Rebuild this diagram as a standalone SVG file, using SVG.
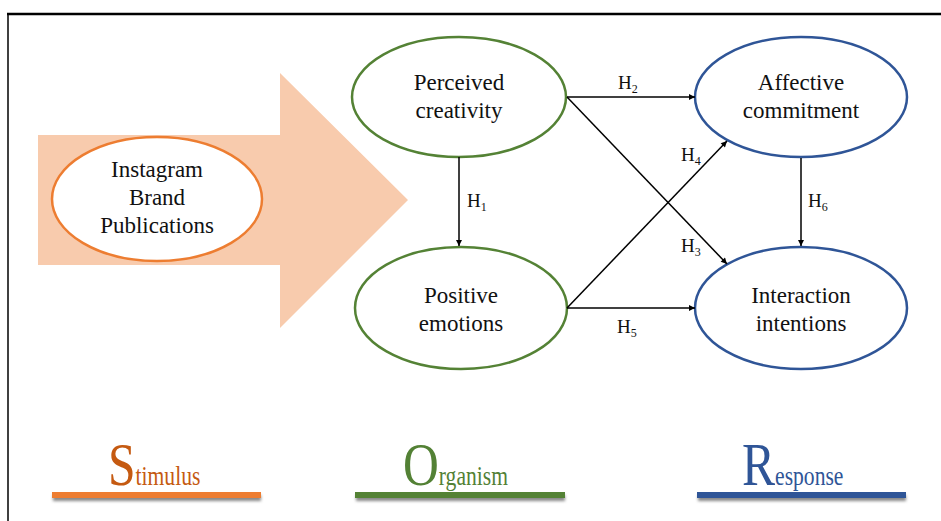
<svg xmlns="http://www.w3.org/2000/svg" width="941" height="521" viewBox="0 0 941 521" font-family="'Liberation Serif', 'Times New Roman', serif">
<style>
text{font-family:'Liberation Serif','Times New Roman',serif}
.lbl{font-size:23px;fill:#111;text-anchor:middle}
.h{font-size:19px;fill:#111}
.sub{font-size:12px}
.conn{stroke:#000;stroke-width:1.5;fill:none;marker-end:url(#ah)}
.green{fill:#fff;stroke:#548235;stroke-width:2.5}
.blue{fill:#fff;stroke:#2F5597;stroke-width:2.5}
.orange{fill:#fff;stroke:#ED7D31;stroke-width:2.5}
.big{font-size:62px}
.small{font-size:27px}
</style>
<defs>
<marker id="ah" viewBox="0 0 10 10" refX="10" refY="5" markerWidth="9" markerHeight="6" markerUnits="userSpaceOnUse" orient="auto">
<path d="M0,0 L10,5 L0,10 z" fill="#000"/>
</marker>
<filter id="sh" x="-10%" y="-100%" width="120%" height="400%">
<feGaussianBlur stdDeviation="1.5"/>
</filter>
</defs>
<rect width="941" height="521" fill="#fff"/>
<g id="frame">
<line x1="7" y1="14" x2="941" y2="14" stroke="#000" stroke-width="2.5"/>
<line x1="8" y1="14" x2="8" y2="521" stroke="#000" stroke-width="1.5"/>
</g>
<g id="big-arrow">
<polygon points="38,135 280,135 280,73 408,200 280,328 280,265 38,265" fill="#F8CBAD"/>
</g>
<g id="instagram">
<ellipse cx="157" cy="199" rx="105" ry="62" class="orange"/>
<text class="lbl" x="157" y="177" font-family="Liberation Serif, serif">Instagram</text>
<text class="lbl" x="157" y="205" font-family="Liberation Serif, serif">Brand</text>
<text class="lbl" x="157" y="233" font-family="Liberation Serif, serif">Publications</text>
</g>
<g id="perceived">
<ellipse cx="459" cy="97" rx="107" ry="60" class="green"/>
<text class="lbl" x="459" y="90" font-family="Liberation Serif, serif">Perceived</text>
<text class="lbl" x="459" y="118" font-family="Liberation Serif, serif">creativity</text>
</g>
<g id="positive">
<ellipse cx="461" cy="308" rx="106" ry="61" class="green"/>
<text class="lbl" x="461" y="303" font-family="Liberation Serif, serif">Positive</text>
<text class="lbl" x="461" y="331" font-family="Liberation Serif, serif">emotions</text>
</g>
<g id="affective">
<ellipse cx="801" cy="97" rx="106" ry="60" class="blue"/>
<text class="lbl" x="801" y="90" font-family="Liberation Serif, serif">Affective</text>
<text class="lbl" x="801" y="118" font-family="Liberation Serif, serif">commitment</text>
</g>
<g id="interaction">
<ellipse cx="801" cy="308" rx="106" ry="61" class="blue"/>
<text class="lbl" x="801" y="303" font-family="Liberation Serif, serif">Interaction</text>
<text class="lbl" x="801" y="331" font-family="Liberation Serif, serif">intentions</text>
</g>
<g id="connectors">
<line class="conn" x1="459" y1="157" x2="459" y2="246"/>
<line class="conn" x1="567" y1="97" x2="695" y2="97"/>
<line class="conn" x1="567" y1="97" x2="727" y2="264"/>
<line class="conn" x1="567" y1="308" x2="727" y2="141"/>
<line class="conn" x1="567" y1="308" x2="695" y2="308"/>
<line class="conn" x1="801" y1="158" x2="801" y2="246"/>
<text class="h" x="467" y="207">H<tspan class="sub" dy="4">1</tspan></text>
<text class="h" x="618" y="89">H<tspan class="sub" dy="4">2</tspan></text>
<text class="h" x="681" y="252">H<tspan class="sub" dy="4">3</tspan></text>
<text class="h" x="681" y="161">H<tspan class="sub" dy="4">4</tspan></text>
<text class="h" x="617" y="333">H<tspan class="sub" dy="4">5</tspan></text>
<text class="h" x="808" y="207">H<tspan class="sub" dy="4">6</tspan></text>
</g>
<g id="stimulus">
<rect x="53" y="495" width="208" height="6" fill="#888" filter="url(#sh)"/>
<rect x="52" y="492" width="209" height="6" fill="#ED7D31"/>
<text class="big" transform="translate(108,485) scale(0.8,1)" fill="#C55A11">S<tspan class="small">timulus</tspan></text>
</g>
<g id="organism">
<rect x="356" y="495" width="209" height="6" fill="#888" filter="url(#sh)"/>
<rect x="355" y="492" width="210" height="6" fill="#548235"/>
<text class="big" transform="translate(403,485) scale(0.8,1)" fill="#538135">O<tspan class="small">rganism</tspan></text>
</g>
<g id="response">
<rect x="698" y="495" width="208" height="6" fill="#888" filter="url(#sh)"/>
<rect x="697" y="492" width="209" height="6" fill="#2F5597"/>
<text class="big" transform="translate(742,485) scale(0.8,1)" fill="#2F5597">R<tspan class="small">esponse</tspan></text>
</g>
</svg>
